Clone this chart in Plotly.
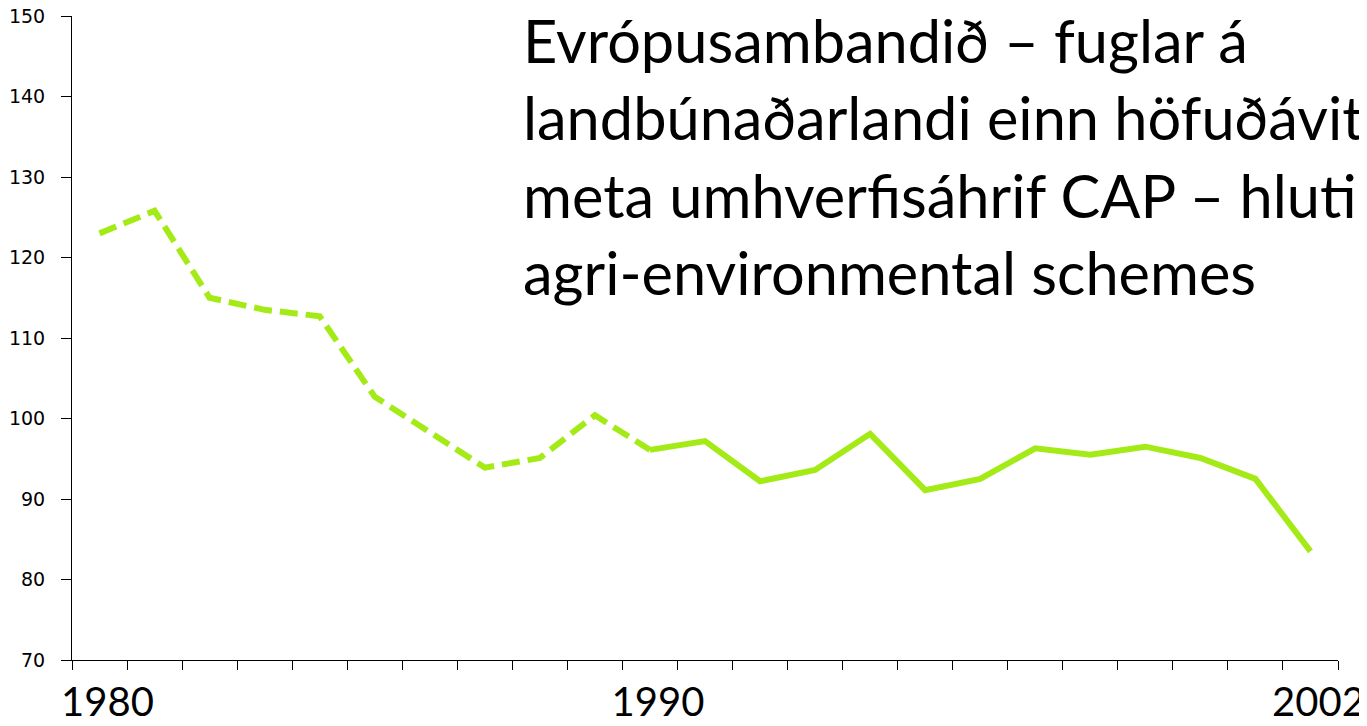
import plotly.graph_objects as go

# bird index on farmland, EU
years = [str(y) for y in range(1980, 2003)]
dashed_years = years[:11]          # 1980-1990
dashed_vals = [123.0, 125.8, 115.0, 113.5, 112.7, 102.7, 98.3, 93.9, 95.1, 100.4, 96.1]
solid_years = years[10:]           # 1990-2002
solid_vals = [96.1, 97.2, 92.2, 93.6, 98.1, 91.1, 92.5, 96.3, 95.5, 96.5, 95.1, 92.5, 83.5]

tick_text = [y if y in ("1980", "1990", "2002") else "" for y in years]
y_ticks = [70, 80, 90, 100, 110, 120, 130, 140, 150]

title_txt = ("Evrópusambandið – fuglar á<br>"
             "landbúnaðarlandi einn höfuðávit<br>"
             "meta umhverfisáhrif CAP – hluti<br>"
             "agri-environmental schemes")

green = "#a4ea17"

fig = go.Figure()
fig.add_trace(go.Scatter(x=dashed_years, y=dashed_vals, mode="lines",
                         line=dict(color=green, width=6, dash="18px,8px"),
                         showlegend=False, hoverinfo="skip"))
fig.add_trace(go.Scatter(x=solid_years, y=solid_vals, mode="lines",
                         line=dict(color=green, width=6),
                         showlegend=False, hoverinfo="skip"))

fig.add_annotation(text=title_txt, xref="paper", yref="paper",
                   x=0.3554, y=1.02, xanchor="left", yanchor="top",
                   align="left", showarrow=False, borderpad=0,
                   font=dict(family="Lato", size=59.5, color="black"))

# the page body has an 8px margin, so the figure is 8px smaller
fig.update_layout(
    width=1359, height=718,
    margin=dict(l=64, r=29, t=8, b=66),
    paper_bgcolor="white", plot_bgcolor="white",
    xaxis=dict(type="category", categoryorder="array", categoryarray=years,
               range=[-0.5, 22.5], automargin=False,
               tickmode="array", tickvals=years, ticktext=tick_text,
               tickson="boundaries", ticks="outside", ticklen=9,
               tickangle=0, tickcolor="black", showline=True,
               linecolor="black", linewidth=1, showgrid=False,
               zeroline=False, ticklabelstandoff=7, ticklabelshift=8,
               tickfont=dict(family="Lato", size=40, color="black")),
    yaxis=dict(range=[70, 150], tickvals=y_ticks, ticks="outside",
               ticklen=10, tickcolor="black", showline=True,
               linecolor="black", linewidth=1, showgrid=False,
               zeroline=False, ticklabelstandoff=12, automargin=False,
               ticklabeloverflow="allow",
               tickfont=dict(family="DejaVu Sans", size=19, color="black")),
)

fig.write_html("out.html")
